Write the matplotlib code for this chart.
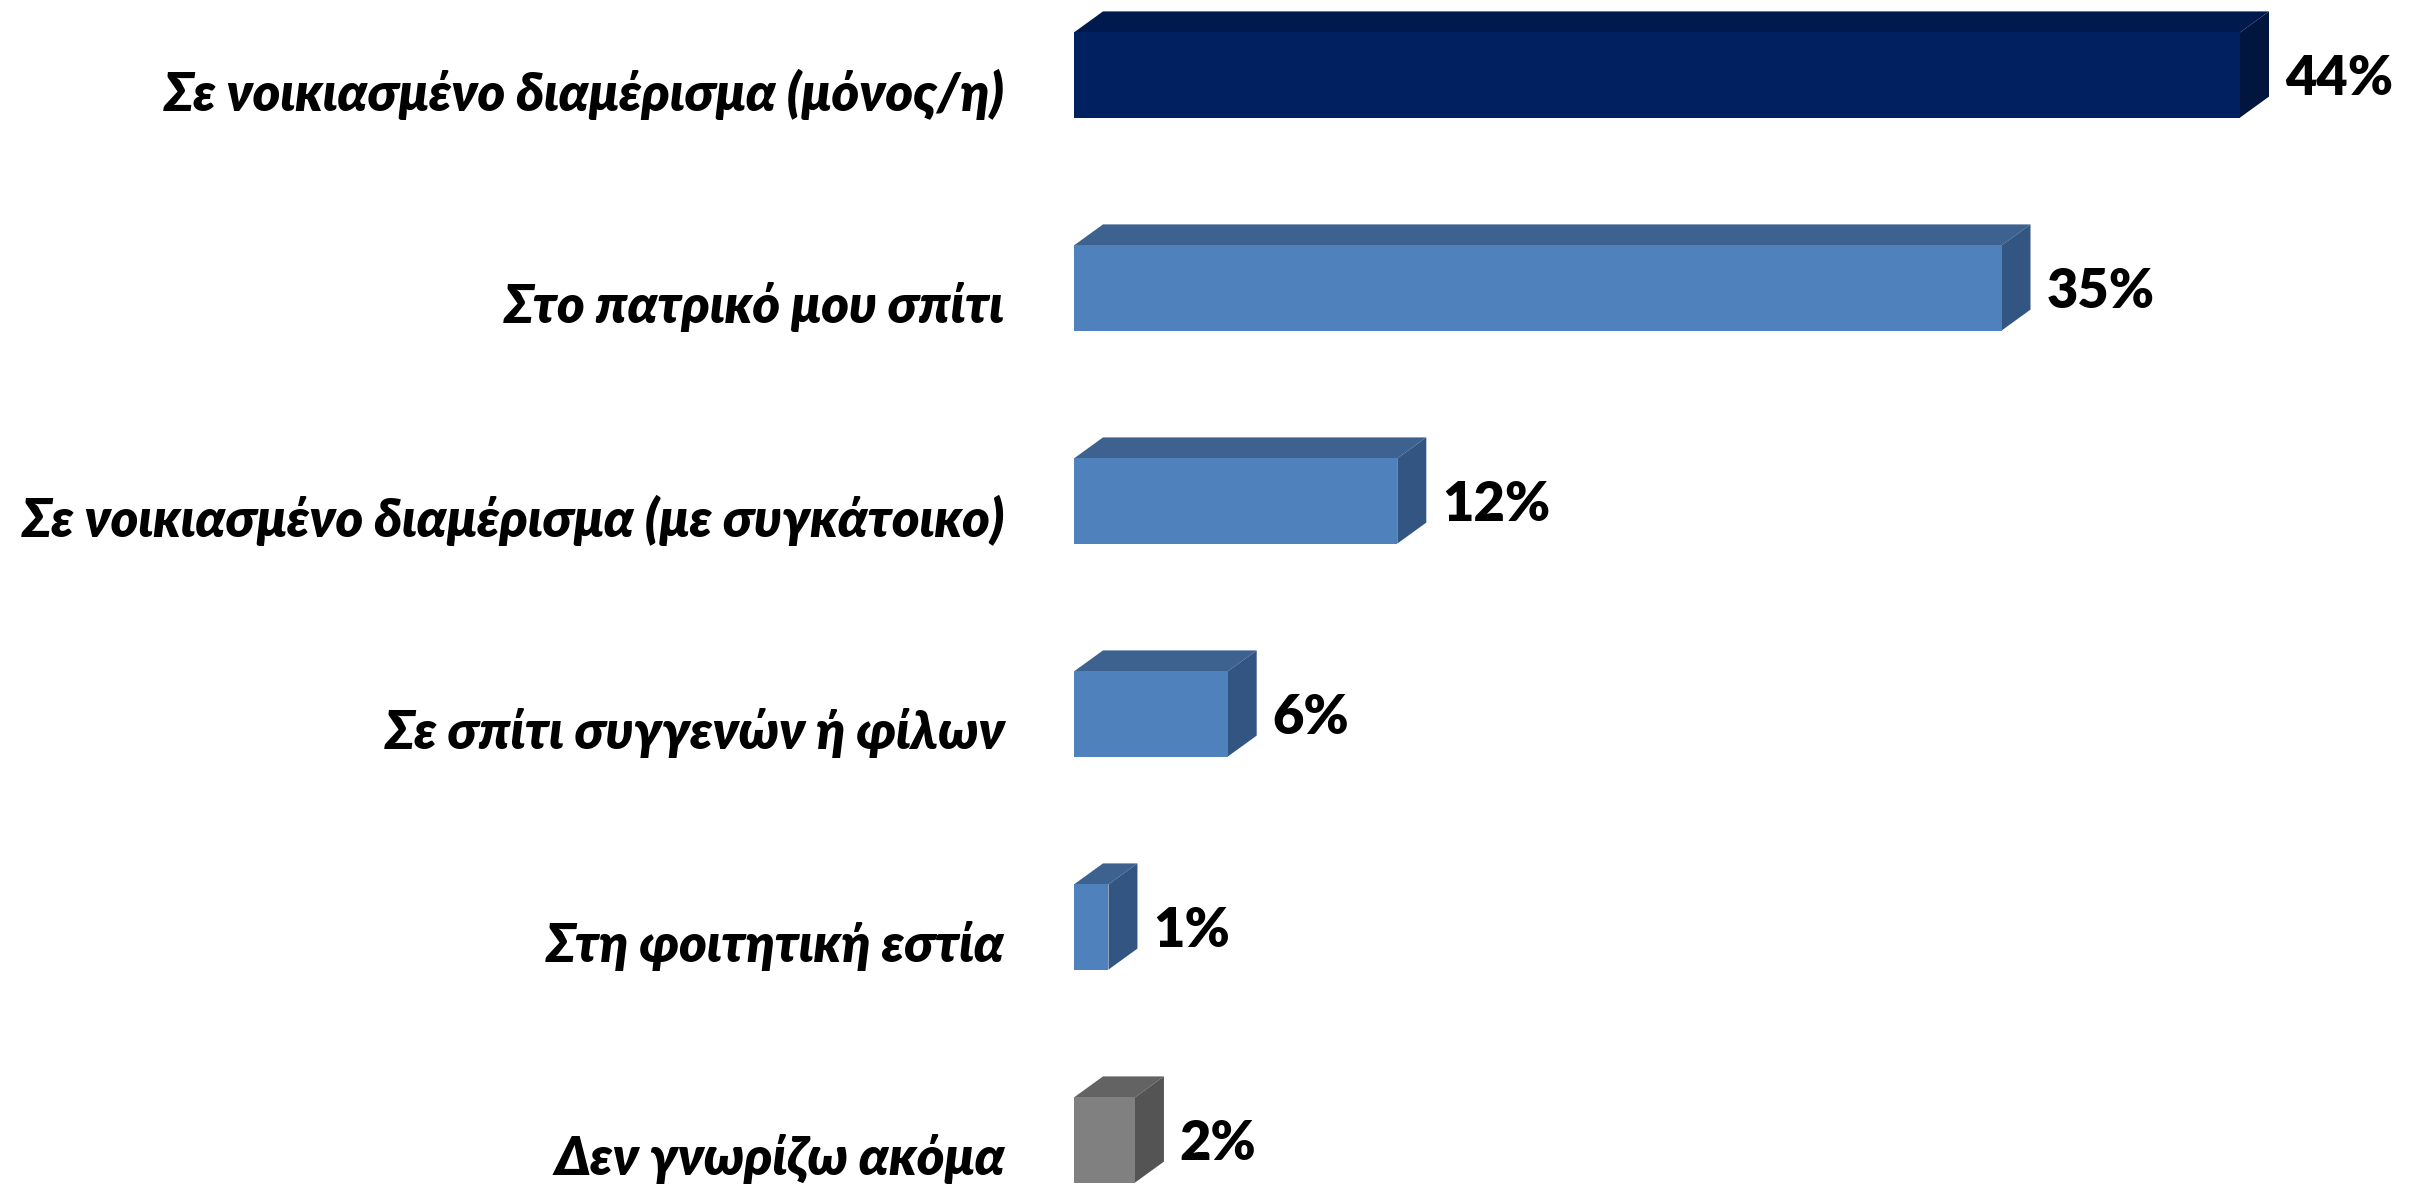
import matplotlib.pyplot as plt
from matplotlib.patches import Polygon

# data
categories = [
    "Σε νοικιασμένο διαμέρισμα (μόνος/η)",
    "Στο πατρικό μου σπίτι",
    "Σε νοικιασμένο διαμέρισμα (με συγκάτοικο)",
    "Σε σπίτι συγγενών ή φίλων",
    "Στη φοιτητική εστία",
    "Δεν γνωρίζω ακόμα",
]
values = [44.0, 35.0, 12.2, 5.8, 1.3, 2.3]
labels = ["44%", "35%", "12%", "6%", "1%", "2%"]

# front / top / side colours per bar
navy = ("#01205F", "#011A4E", "#01163F")
blue = ("#4F81BD", "#3D6290", "#335582")
gray = ("#808080", "#636363", "#545454")
bar_colors = [navy, blue, blue, blue, blue, gray]

W, H, DPI = 2417, 1189, 100
fig = plt.figure(figsize=(W / DPI, H / DPI), dpi=DPI)
ax = fig.add_axes([0, 0, 1, 1])

px_per_unit = 26.5        # pixels per percent
x0_px = 1074              # where value 0 sits
first_c, step = 75, 213   # category centre (px) and spacing
ax.set_xlim(-x0_px / px_per_unit, (W - x0_px) / px_per_unit)
ax.set_ylim((H - first_c) / step, -first_c / step)
ax.axis("off")

bh = 0.40
dx = 29 / px_per_unit
dy = 21 / step
fams = ["Lato", "Open Sans", "DejaVu Sans"]

for i, (v, (cf, ct, cs)) in enumerate(zip(values, bar_colors)):
    top, bot = i - bh / 2, i + bh / 2
    front = Polygon([(0, top), (v, top), (v, bot), (0, bot)], closed=True,
                    facecolor=cf, edgecolor="none")
    topf = Polygon([(0, top), (v, top), (v + dx, top - dy), (dx, top - dy)],
                   closed=True, facecolor=ct, edgecolor="none")
    side = Polygon([(v, top), (v + dx, top - dy), (v + dx, bot - dy), (v, bot)],
                   closed=True, facecolor=cs, edgecolor="none")
    for p in (topf, side, front):
        ax.add_patch(p)

    ax.text(v + dx + 0.6, i + 0.02, labels[i], ha="left", va="center",
            fontsize=39, fontweight="heavy", family=fams)
    ax.text(-2.6, i + 0.09, categories[i], ha="right", va="center",
            fontsize=38, fontweight="heavy", fontstyle="italic", family=fams)

fig.savefig("out.png", dpi=DPI, facecolor="white")
